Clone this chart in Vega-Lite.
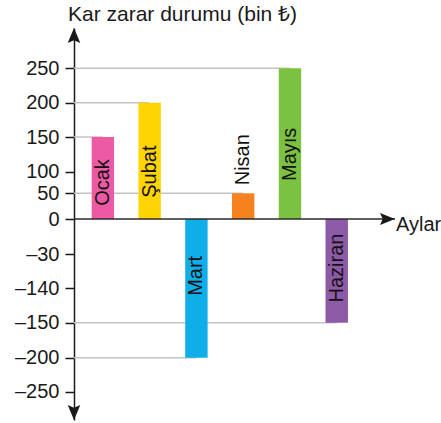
{
  "$schema": "https://vega.github.io/schema/vega-lite/v6.json",
  "width": 321,
  "height": 392,
  "autosize": "none",
  "padding": {"left": 74, "top": 28, "right": 46, "bottom": 3},
  "background": "white",
  "view": {"stroke": null},
  "config": {"font": "Liberation Sans"},
  "title": {
    "text": "Kar zarar durumu (bin ₺)",
    "anchor": "start",
    "frame": "group",
    "fontSize": 21,
    "fontWeight": "normal",
    "font": "Liberation Sans",
    "color": "#1a1a1a",
    "dx": -6,
    "offset": 3
  },
  "datasets": {
    "bars": [
      {"month": "Ocak", "value": 150},
      {"month": "Şubat", "value": 200},
      {"month": "Mart", "value": -200},
      {"month": "Nisan", "value": 50},
      {"month": "Mayıs", "value": 250},
      {"month": "Haziran", "value": -150}
    ],
    "one": [{"item": "axis"}]
  },
  "data": {"name": "bars"},
  "layer": [
    {
      "mark": {"type": "rule", "color": "#c4c4c4", "strokeWidth": 1.5},
      "encoding": {
        "x": {"field": "month", "type": "nominal", "sort": null, "bandPosition": 0.5, "axis": null,
              "scale": {"type": "band", "paddingInner": 0.521, "paddingOuter": 0.692, "align": 0.273, "round": false}},
        "x2": {"value": 0},
        "y": {"field": "value", "type": "quantitative"}
      }
    },
    {
      "mark": {"type": "bar"},
      "encoding": {
        "x": {"field": "month", "type": "nominal", "sort": null, "axis": null},
        "y": {
          "field": "value",
          "type": "quantitative",
          "scale": {
            "type": "linear",
            "domain": [-300, -250, -200, -150, -140, -30, 0, 50, 100, 150, 200, 250, 300],
            "range": [392, 363.7, 329.7, 294.7, 260.3, 226, 191, 165.3, 143.7, 109, 74.7, 40.3, 0],
            "nice": false,
            "zero": false
          },
          "axis": {
            "title": null,
            "grid": false,
            "values": [250, 200, 150, 100, 50, 0, -30, -140, -150, -200, -250],
            "tickCount": 30,
            "labelExpr": "datum.value < 0 ? '–' + abs(datum.value) : datum.label",
            "labelFontSize": 20,
            "labelFont": "Liberation Sans",
            "labelColor": "#1a1a1a",
            "labelPadding": 6,
            "labelOverlap": false,
            "tickSize": 9,
            "tickWidth": 1.5,
            "tickColor": "#1a1a1a",
            "domainColor": "#1a1a1a",
            "domainWidth": 1.5
          }
        },
        "y2": {"datum": 0},
        "color": {
          "field": "month",
          "type": "nominal",
          "legend": null,
          "scale": {
            "domain": ["Ocak", "Şubat", "Mart", "Nisan", "Mayıs", "Haziran"],
            "range": ["#eb5aa2", "#ffd400", "#10aee8", "#f5821f", "#7cc242", "#8d5aa7"]
          }
        }
      }
    },
    {
      "data": {"name": "one"},
      "mark": {"type": "rule", "color": "#2a2a2a", "strokeWidth": 1.5},
      "encoding": {"y": {"datum": 0}}
    },
    {
      "data": {"name": "one"},
      "mark": {"type": "point", "filled": true, "opacity": 1, "color": "#1a1a1a", "size": 900, "shape": "M0,0L-0.42,1L0,0.82L0.42,1Z"},
      "encoding": {"x": {"value": 0}, "y": {"datum": 300}}
    },
    {
      "data": {"name": "one"},
      "mark": {"type": "point", "filled": true, "opacity": 1, "color": "#1a1a1a", "size": 900, "shape": "M0,0L-0.42,-1L0,-0.82L0.42,-1Z"},
      "encoding": {"x": {"value": 0}, "y": {"datum": -300}}
    },
    {
      "data": {"name": "one"},
      "mark": {"type": "point", "filled": true, "opacity": 1, "color": "#1a1a1a", "size": 900, "shape": "M0,0L-1,-0.4L-0.82,0L-1,0.4Z"},
      "encoding": {"x": {"value": "width"}, "y": {"datum": 0}}
    },
    {
      "data": {"name": "one"},
      "mark": {"type": "text", "text": "Aylar", "fontSize": 20, "font": "Liberation Sans", "color": "#1a1a1a", "align": "left", "baseline": "middle", "dx": 1, "dy": 6},
      "encoding": {"x": {"value": "width"}, "y": {"datum": 0}}
    },
    {
      "transform": [
        {"filter": "datum.value > 60 || datum.value < 0"},
        {"calculate": "datum.value / 2", "as": "mid"}
      ],
      "mark": {"type": "text", "angle": 270, "fontSize": 20, "font": "Liberation Sans", "color": "#111111", "align": "center", "baseline": "middle"},
      "encoding": {
        "x": {"field": "month", "type": "nominal", "sort": null, "axis": null},
        "y": {"field": "mid", "type": "quantitative"},
        "text": {"field": "month"}
      }
    },
    {
      "transform": [{"filter": "datum.value > 0 && datum.value <= 60"}],
      "mark": {"type": "text", "angle": 270, "fontSize": 20, "font": "Liberation Sans", "color": "#111111", "align": "left", "baseline": "middle", "dx": 8},
      "encoding": {
        "x": {"field": "month", "type": "nominal", "sort": null, "axis": null},
        "y": {"field": "value", "type": "quantitative"},
        "text": {"field": "month"}
      }
    }
  ]
}
